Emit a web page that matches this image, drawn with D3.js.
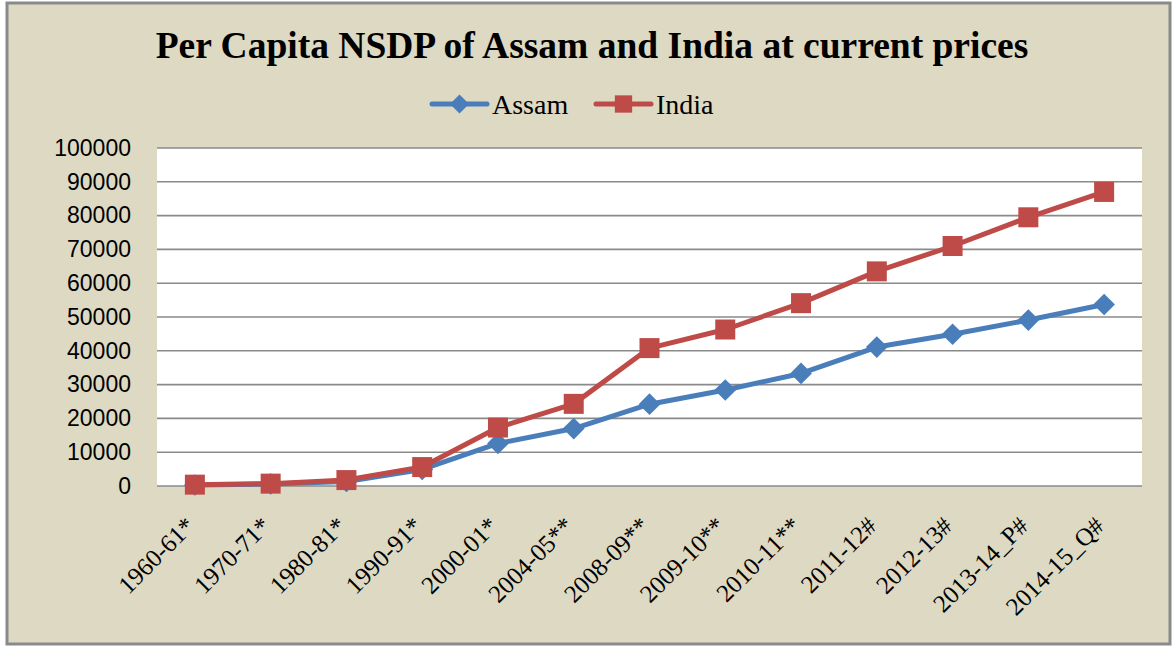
<!DOCTYPE html>
<html>
<head>
<meta charset="utf-8">
<script src="https://cdn.jsdelivr.net/npm/d3@7"></script>
<style>
  body { margin: 0; background: #fff; }
</style>
</head>
<body>
<svg id="chart" width="1172" height="646"></svg>
<script>
// data
var years = ["1960-61*", "1970-71*", "1980-81*", "1990-91*", "2000-01*", "2004-05**", "2008-09**",
             "2009-10**", "2010-11**", "2011-12#", "2012-13#", "2013-14_P#", "2014-15_Q#"];
var assam = [300, 600, 1350, 4900, 12600, 17000, 24200, 28400, 33300, 41100, 44900, 49100, 53700];
var india = [400, 700, 1750, 5600, 17300, 24300, 40800, 46300, 54100, 63500, 71000, 79500, 87000];
var yTicks = [0, 10000, 20000, 30000, 40000, 50000, 60000, 70000, 80000, 90000, 100000];

var svg = d3.select("#chart");

var bg = "#DDD9C3",
    blue = "#4A7EBB",
    red = "#BE4B48";

var plot = {left: 157, right: 1142, top: 148, bottom: 486};

// outer frame
svg.append("rect")
    .attr("x", 7).attr("y", 3)
    .attr("width", 1163).attr("height", 641)
    .attr("fill", bg)
    .attr("stroke", "#8a8a8a")
    .attr("stroke-width", 3);

// plot area
svg.append("rect")
    .attr("x", plot.left).attr("y", plot.top)
    .attr("width", plot.right - plot.left).attr("height", plot.bottom - plot.top)
    .attr("fill", "#fff");

var x = d3.scalePoint().domain(years).range([plot.left, plot.right]).padding(0.5);
var y = d3.scaleLinear().domain([0, 100000]).range([plot.bottom, plot.top]);

// gridlines
svg.append("g")
    .selectAll("line")
    .data(yTicks)
    .enter().append("line")
    .attr("x1", plot.left).attr("x2", plot.right)
    .attr("y1", d => y(d)).attr("y2", d => y(d))
    .attr("stroke", "#8a8a8a")
    .attr("stroke-width", 1.6);

// y axis labels
var yAxis = d3.axisLeft(y).tickValues(yTicks).tickSize(0).tickPadding(0).tickFormat(d3.format("d"));
var gy = svg.append("g")
    .attr("transform", "translate(131,0)")
    .call(yAxis);
gy.select(".domain").remove();
gy.selectAll("text")
    .attr("fill", "#000")
    .style("font-family", "'Liberation Sans', Arial, sans-serif")
    .style("font-size", "23px");

// x axis labels, rotated
svg.append("g")
    .selectAll("text")
    .data(years)
    .enter().append("text")
    .attr("transform", d => "translate(" + (x(d) - 11) + ",515) rotate(-45)")
    .attr("text-anchor", "end")
    .attr("dy", "0.7em")
    .style("font-family", "'Liberation Serif', 'Times New Roman', serif")
    .style("font-size", "25px")
    .text(d => d);

// lines
var line = d3.line()
    .x((d, i) => x(years[i]))
    .y(d => y(d));

function drawSeries(values, color, shape) {
    svg.append("path")
        .datum(values)
        .attr("d", line)
        .attr("fill", "none")
        .attr("stroke", color)
        .attr("stroke-width", 5)
        .attr("stroke-linejoin", "round");

    svg.append("g")
        .selectAll("path")
        .data(values)
        .enter().append("path")
        .attr("transform", (d, i) => "translate(" + x(years[i]) + "," + y(d) + ")")
        .attr("d", shape === "square" ? d3.symbol().type(d3.symbolSquare).size(400)
                                      : d3.symbol().type(d3.symbolDiamond2).size(300))
        .attr("fill", color);
}

drawSeries(assam, blue, "diamond");
drawSeries(india, red, "square");

// title
svg.append("text")
    .attr("x", 592).attr("y", 58)
    .attr("text-anchor", "middle")
    .style("font-family", "'Liberation Serif', 'Times New Roman', serif")
    .style("font-weight", "bold")
    .style("font-size", "37.5px")
    .text("Per Capita NSDP of Assam and India at current prices");

// legend
var legend = [
    {name: "Assam", color: blue, shape: "diamond", x: 432},
    {name: "India", color: red, shape: "square", x: 596}
];
var lg = svg.append("g").selectAll("g").data(legend).enter().append("g")
    .attr("transform", d => "translate(" + d.x + ",104)");
lg.append("line")
    .attr("x1", 0).attr("x2", 55)
    .attr("stroke", d => d.color)
    .attr("stroke-width", 5)
    .attr("stroke-linecap", "round");
lg.append("path")
    .attr("transform", "translate(27.5,0)")
    .attr("d", d => d.shape === "square" ? d3.symbol().type(d3.symbolSquare).size(300)()
                                         : d3.symbol().type(d3.symbolDiamond2).size(230)())
    .attr("fill", d => d.color);
lg.append("text")
    .attr("x", 60).attr("y", 10)
    .style("font-family", "'Liberation Serif', 'Times New Roman', serif")
    .style("font-size", "28px")
    .text(d => d.name);
</script>
</body>
</html>
